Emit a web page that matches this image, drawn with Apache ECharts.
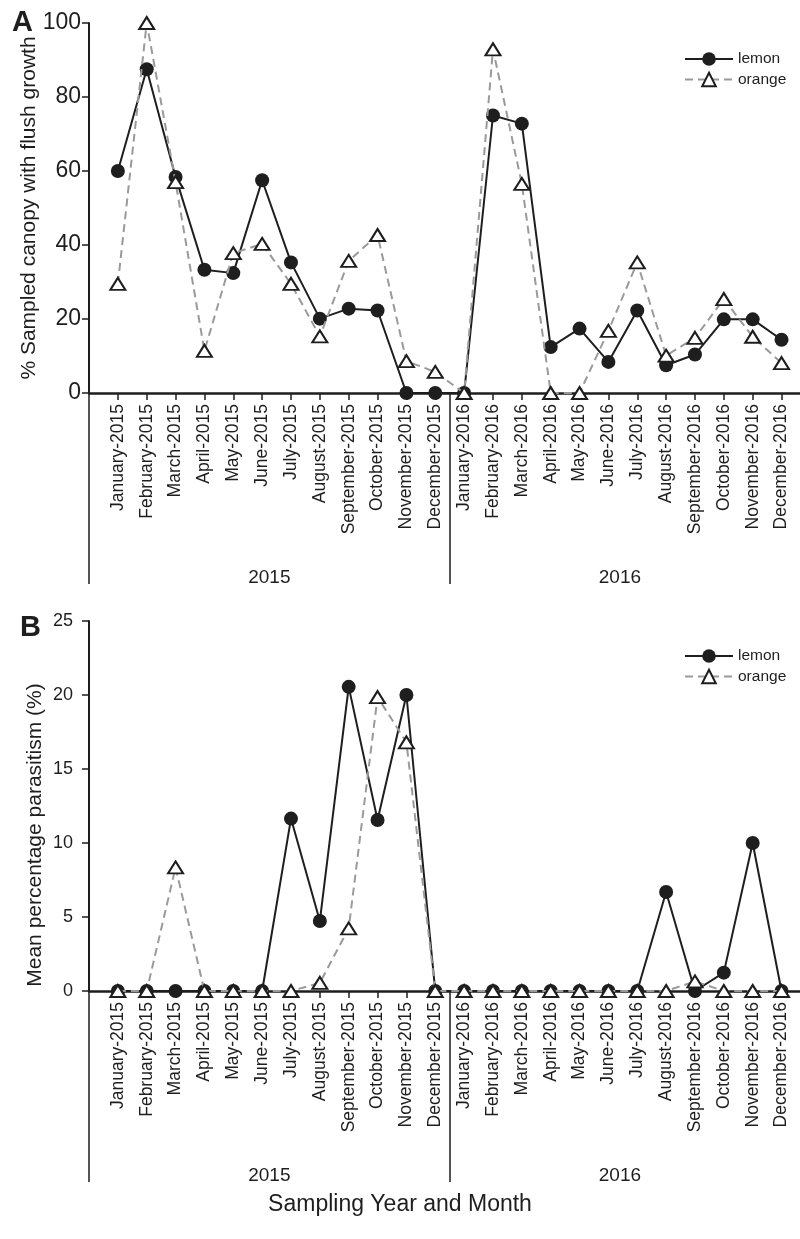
<!DOCTYPE html>
<html><head><meta charset="utf-8">
<script src="https://cdn.jsdelivr.net/npm/echarts@6/dist/echarts.min.js"></script>
<style>html,body{margin:0;padding:0;background:#fff}#c{width:800px;height:1239px}</style>
</head><body><div id="c"></div>
<script>
// ---------- data ----------
const months = ['January-2015','February-2015','March-2015','April-2015','May-2015','June-2015',
  'July-2015','August-2015','September-2015','October-2015','November-2015','December-2015',
  'January-2016','February-2016','March-2016','April-2016','May-2016','June-2016',
  'July-2016','August-2016','September-2016','October-2016','November-2016','December-2016'];
const years = ['2015', '2016'];
const seriesNames = ['lemon', 'orange'];
// Panel A: % sampled canopy with flush growth
const flushLemon  = [60.0, 87.5, 58.4, 33.3, 32.4, 57.5, 35.3, 20.1, 22.8, 22.3, 0, 0,
                     0, 75.0, 72.8, 12.4, 17.4, 8.4, 22.3, 7.5, 10.4, 19.9, 19.9, 14.4];
const flushOrange = [29.5, 100, 57.0, 11.4, 37.8, 40.3, 29.5, 15.3, 35.7, 42.7, 8.6, 5.7,
                     0, 92.9, 56.5, 0, 0, 16.8, 35.3, 10.1, 14.9, 25.4, 15.2, 8.1];
// Panel B: mean percentage parasitism
const parasLemon  = [0, 0, 0, 0, 0, 0, 11.65, 4.73, 20.55, 11.55, 20.0, 0,
                     0, 0, 0, 0, 0, 0, 0, 6.69, 0, 1.24, 10.0, 0];
const parasOrange = [0, 0, 8.35, 0, 0, 0, 0, 0.55, 4.23, 19.86, 16.8, 0,
                     0, 0, 0, 0, 0, 0, 0, 0, 0.65, 0, 0, 0];
const yTicksA = {min: 0, max: 100, interval: 20};
const yTicksB = {min: 0, max: 25, interval: 5};

// ---------- layout / style ----------
const FONT = 'Liberation Sans, Arial, Helvetica, sans-serif';
const INK = '#1e1e1e';
const monthPos = months.map((m, i) => i + 1);
const yearSplit = [0, 12.5];
const yearCenters = [6.25, 18.4];
const xMax = 24.64;

const pts = arr => arr.map((v, i) => [i + 1, v]);

function xAxes(gridIndex) {
  return [{
    type: 'value', gridIndex, min: 0, max: xMax, position: 'bottom',
    axisLine: {show: true, onZero: false, lineStyle: {color: INK, width: 2.5}},
    axisTick: {show: true, inside: false, length: 7, customValues: monthPos, lineStyle: {color: INK, width: 1.5}},
    axisLabel: {show: true, rotate: 90, margin: 11, customValues: monthPos,
      formatter: v => months[Math.round(v) - 1] || '', color: INK, fontFamily: FONT, fontSize: 17.5},
    splitLine: {show: false}
  }, {
    type: 'value', gridIndex, min: 0, max: xMax, position: 'bottom',
    axisLine: {show: false},
    axisTick: {show: true, inside: false, length: 191, customValues: yearSplit, lineStyle: {color: INK, width: 1.5}},
    axisLabel: {show: true, margin: 175, customValues: yearCenters,
      formatter: v => years[yearCenters.indexOf(v)] || '', color: INK, fontFamily: FONT, fontSize: 19},
    splitLine: {show: false}
  }];
}

function yAxis(gridIndex, ticks, name, nameGap, fontSize, margin, namePad) {
  return {
    type: 'value', gridIndex, min: ticks.min, max: ticks.max, interval: ticks.interval,
    name, nameLocation: 'middle', nameGap, nameMoveOverlap: false,
    nameTextStyle: {color: INK, fontFamily: FONT, fontSize: 21, padding: namePad},
    axisLine: {show: true, lineStyle: {color: INK, width: 2}},
    axisTick: {show: true, inside: false, length: 7, lineStyle: {color: INK, width: 1.5}},
    axisLabel: {color: INK, fontFamily: FONT, fontSize, margin},
    splitLine: {show: false}
  };
}

function seriesPair(xIdx, yIdx, lemon, orange) {
  return [{
    name: seriesNames[0], type: 'line', xAxisIndex: xIdx, yAxisIndex: yIdx, data: pts(lemon),
    symbol: 'circle', symbolSize: 14, showAllSymbol: true,
    lineStyle: {color: INK, width: 2}, itemStyle: {color: INK, borderWidth: 0}, z: 3
  }, {
    name: seriesNames[1], type: 'line', xAxisIndex: xIdx, yAxisIndex: yIdx, data: pts(orange),
    symbol: 'triangle', symbolSize: [15, 12], showAllSymbol: true,
    lineStyle: {color: '#9a9a9a', width: 2, type: [8, 5]},
    itemStyle: {color: '#ffffff', borderColor: INK, borderWidth: 2}, z: 4
  }];
}

function legend(top) {
  return {
    data: seriesNames, left: 684, top, orient: 'vertical', padding: 0,
    itemWidth: 48, itemHeight: 17, itemGap: 4.5,
    textStyle: {color: INK, fontFamily: FONT, fontSize: 15.5}, selectedMode: false
  };
}

const chart = echarts.init(document.getElementById('c'), null, {renderer: 'canvas'});
chart.setOption({
  animation: false,
  backgroundColor: '#ffffff',
  grid: [
    {left: 89, right: 0, top: 23, height: 370},
    {left: 89, right: 0, top: 621, height: 370}
  ],
  xAxis: [...xAxes(0), ...xAxes(1)],
  yAxis: [
    yAxis(0, yTicksA, '% Sampled canopy with flush growth', 49, 23, 8, [0, 0, 0, 0]),
    yAxis(1, yTicksB, 'Mean percentage parasitism (%)', 43, 18, 16, [0, 58, 0, 0])
  ],
  legend: [legend(51), legend(648)],
  series: [...seriesPair(0, 0, flushLemon, flushOrange), ...seriesPair(2, 1, parasLemon, parasOrange)],
  graphic: [
    {type: 'text', left: 12, top: 8, style: {text: 'A', fontFamily: FONT, fontSize: 29, fontWeight: 'bold', fill: INK}},
    {type: 'text', left: 20, top: 613, style: {text: 'B', fontFamily: FONT, fontSize: 29, fontWeight: 'bold', fill: INK}},
    {type: 'text', left: 'center', top: 1193, style: {text: 'Sampling Year and Month', fontFamily: FONT, fontSize: 23, fill: INK}}
  ]
});
</script></body></html>
